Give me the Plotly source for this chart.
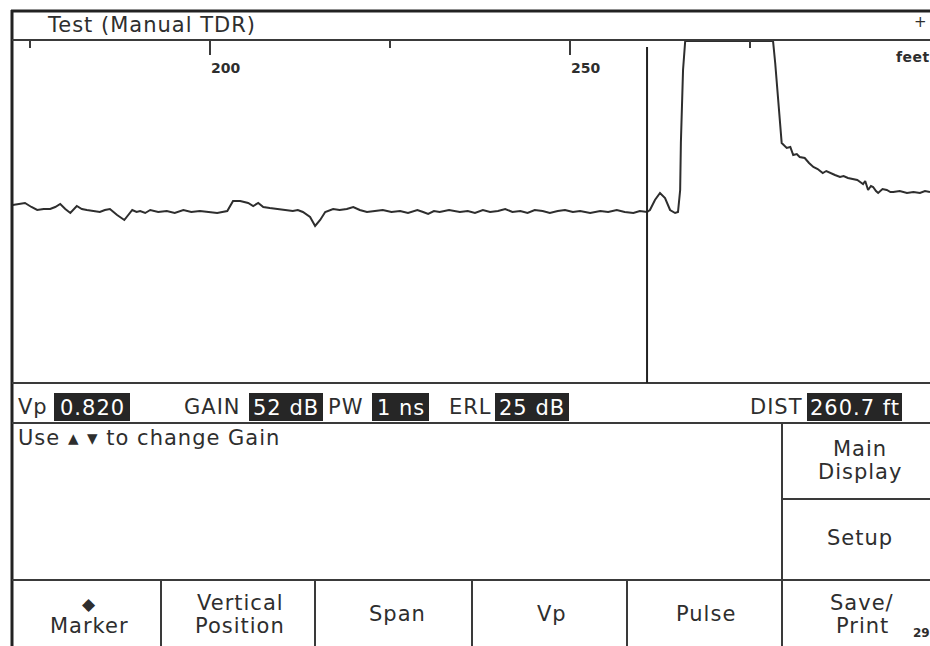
import plotly.graph_objects as go

W, H = 930, 646

# TDR trace: distance along the cable (feet) and reflected level
# (display units, 0 = bottom of the trace window, 343 = top)
distance_ft = [
    172.6, 173.4, 174.3, 175.2, 176.0, 176.9, 177.8, 178.5, 179.2, 179.9,
    180.6, 181.5, 182.2, 182.9, 183.8, 184.7, 185.4, 186.1, 186.6, 187.1,
    188.1, 189.2, 189.8, 190.3, 191.0, 191.7, 192.8, 194.0, 195.1, 196.3,
    197.4, 198.6, 199.8, 201.0, 201.7, 202.4, 203.2, 204.2, 205.3, 206.0,
    206.7, 207.4, 208.3, 209.3, 210.4, 211.5, 212.2, 212.9, 213.9, 214.6,
    215.3, 216.0, 217.1, 218.0, 219.0, 219.9, 220.8, 221.8, 222.9, 224.0,
    225.2, 226.4, 227.5, 228.8, 229.6, 230.3, 231.1, 231.9, 233.2, 234.7,
    235.8, 236.8, 237.9, 238.9, 240.0, 241.0, 242.0, 243.1, 244.1, 245.1,
    246.2, 247.2, 248.3, 249.3, 250.4, 251.4, 252.8, 254.2, 255.3, 256.5,
    257.6, 258.8, 259.7, 260.7, 261.1, 261.8, 262.5, 263.2, 263.9, 264.6,
    265.0, 265.3, 265.4, 265.7, 266.0, 278.2, 278.5, 278.9, 279.2, 279.4,
    280.1, 280.6, 281.0, 281.5, 281.9, 282.6, 283.2, 283.8, 284.4, 285.1,
    285.6, 286.1, 286.8, 287.5, 288.0, 288.6, 289.2, 289.9, 290.3, 290.7,
    291.0, 291.4, 291.8, 292.1, 292.5, 292.8, 293.4, 294.0, 294.5, 294.9,
    295.8, 296.8, 297.7, 298.6, 299.3, 300.0,
]
level = [
    178, 179, 180, 176, 173, 174, 174, 176, 179, 174,
    170, 177, 174, 173, 172, 171, 173, 174, 171, 168,
    163, 173, 171, 172, 170, 173, 171, 172, 170, 173,
    171, 172, 171, 170, 171, 172, 182, 182, 180, 177,
    180, 176, 175, 174, 173, 172, 173, 171, 166, 157,
    163, 171, 174, 173, 174, 176, 173, 171, 172, 173,
    171, 172, 170, 173, 171, 169, 172, 171, 173, 171,
    172, 170, 173, 171, 172, 174, 171, 172, 170, 173,
    172, 170, 172, 173, 171, 172, 170, 172, 171, 173,
    171, 170, 172, 171, 173, 183, 190, 185, 173, 170,
    171, 193, 240, 313, 342, 342, 320, 286, 253, 240,
    235, 236, 228, 229, 226, 225, 220, 216, 214, 210,
    212, 210, 208, 206, 207, 205, 204, 203, 201, 199,
    202, 193, 197, 196, 192, 190, 194, 193, 191, 191,
    192, 190, 191, 190, 192, 191,
]

# distance scale
x_range_ft = [172.5, 300.0]
major_ticks_ft = [200, 250]
minor_tick_step_ft = 25

# instrument settings shown on the status line
cursor_ft = 260.7
vp_value = 0.820
gain_db = 52
pulse_width_ns = 1
erl_db = 25

softkeys_bottom = [["\u25c6", "Marker"], ["Vertical", "Position"], ["Span"],
                   ["Vp"], ["Pulse"], ["Save/", "Print"]]
softkeys_side = [["Main", "Display"], ["Setup"]]

INK = "#2e2e2e"
LINE = "#3a3a3a"
FONT = "DejaVu Sans"


def px(x):
    return x / W


def py(y):
    return 1 - y / H


def spaced(text, gap=1):
    return f'<span style="letter-spacing:{gap}px">{text}</span>'


fig = go.Figure()
fig.add_trace(go.Scatter(
    x=distance_ft, y=level, mode="lines",
    line=dict(color=INK, width=2), hoverinfo="skip", showlegend=False,
))

shapes = []
annotations = []


def hline(y, x0, x1, width=2, color=LINE):
    shapes.append(dict(type="line", xref="paper", yref="paper",
                       x0=px(x0), x1=px(x1), y0=py(y), y1=py(y),
                       line=dict(color=color, width=width)))


def vline(x, y0, y1, width=2, color=LINE):
    shapes.append(dict(type="line", xref="paper", yref="paper",
                       x0=px(x), x1=px(x), y0=py(y0), y1=py(y1),
                       line=dict(color=color, width=width)))


def label(text, x, y, anchor="left", size=21, color=INK, weight="normal", gap=1):
    annotations.append(dict(
        text=spaced(text, gap), x=px(x), y=py(y), xref="paper", yref="paper",
        xanchor=anchor, yanchor="middle", showarrow=False, align="center",
        font=dict(family=FONT, size=size, color=color, weight=weight),
    ))


def value_box(text, x0, x1, y0=393, y1=421):
    shapes.append(dict(type="rect", xref="paper", yref="paper",
                       x0=px(x0), x1=px(x1), y0=py(y1), y1=py(y0),
                       fillcolor="#262626", line=dict(width=0)))
    label(text, (x0 + x1) / 2, (y0 + y1) / 2 + 1, anchor="center", color="white")


# frame of the instrument screen
vline(12, 10, 646, width=3, color="#222")
hline(11, 11, 930, width=3, color="#222")
hline(40, 12, 930)
hline(383, 12, 930)
hline(423, 12, 930)
hline(580, 12, 930)
vline(782, 423, 646)
hline(499, 782, 930)
for xd in [161, 315, 472, 627]:
    vline(xd, 580, 646)

# distance cursor
shapes.append(dict(type="line", xref="x", yref="y",
                   x0=cursor_ft, x1=cursor_ft, y0=-4, y1=336,
                   line=dict(color="#222", width=2)))

# distance labels sit just below the longer ticks
for t in major_ticks_ft:
    annotations.append(dict(
        text=str(t), x=t, y=py(68), xref="x", yref="paper",
        xanchor="left", yanchor="middle", showarrow=False, xshift=-1,
        font=dict(family=FONT, size=14, color=INK, weight="bold"),
    ))

# title bar
label("Test (Manual TDR)", 45, 25)
label("+", 912, 22, size=15, gap=0)
label("feet", 894, 57, size=14, weight="bold", gap=0.5)

# status line
label("Vp", 16, 407)
value_box(f"{vp_value:.3f}", 54, 130)
label("GAIN", 182, 407)
value_box(f"{gain_db} dB", 249, 323)
label("PW", 326, 407)
value_box(f"{pulse_width_ns} ns", 372, 429)
label("ERL", 447, 407)
value_box(f"{erl_db} dB", 495, 569)
label("DIST", 748, 407)
value_box(f"{cursor_ft:.1f} ft", 807, 902)

# message area
label("Use \u25b4 \u25be to change Gain", 16, 438)


def key_label(lines, cx, cy, spacing):
    n = len(lines)
    for i, line in enumerate(lines):
        y = cy + (i - (n - 1) / 2) * spacing
        if line == "\u25c6":
            label(line, cx, y + 1, anchor="center", size=17, gap=0)
        else:
            label(line, cx, y, anchor="center")


# soft keys
for lines, cy in zip(softkeys_side, [460, 538]):
    key_label(lines, 860, cy, 23)

bottom_centers = [89, 240, 397, 552, 706, 862]
for lines, cx in zip(softkeys_bottom, bottom_centers):
    key_label(lines, cx, 614, 23)

label("29", 911, 633, size=12, weight="bold", gap=0)

fig.update_layout(
    width=W, height=H,
    margin=dict(l=0, r=0, t=0, b=0),
    paper_bgcolor="white", plot_bgcolor="white",
    shapes=shapes, annotations=annotations,
    xaxis=dict(
        domain=[px(12), 1.0], range=x_range_ft, side="top",
        showgrid=False, zeroline=False, showline=False,
        tickmode="array", tickvals=major_ticks_ft, showticklabels=False,
        ticks="inside", ticklen=15, tickwidth=2, tickcolor=LINE,
        minor=dict(dtick=minor_tick_step_ft, tick0=0, ticks="inside",
                   ticklen=8, tickwidth=2, tickcolor=LINE, showgrid=False),
    ),
    yaxis=dict(
        domain=[py(383), py(40)], range=[0, 343],
        showgrid=False, zeroline=False, showline=False,
        showticklabels=False, ticks="",
    ),
)

fig.write_html("out.html")
